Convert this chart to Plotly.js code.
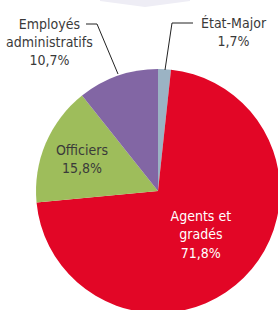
<!DOCTYPE html>
<html>
<head>
<meta charset="utf-8">
<script src="https://cdn.plot.ly/plotly-3.0.1.min.js"></script>
<style>
html, body { margin:0; padding:0; overflow:hidden; background:#fff; width:278px; height:310px; }
#chart { width:284px; height:316px; }
</style>
</head>
<body>
<div id="chart"></div>
<script>
const categories = ['État-Major', 'Agents et gradés', 'Officiers', 'Employés administratifs'];
const values = [1.7, 71.8, 15.8, 10.7];
const colors = ['#9bb3c4', '#e20626', '#9ebd5b', '#8266a4'];
const labelLines = ['État-Major', 'Agents et<br>gradés', 'Officiers', 'Employés<br>administratifs'];
const textColors = ['#3a3a3a', '#ffffff', '#3a3a3a', '#3a3a3a'];
const insideShown = [false, true, true, false];

const W = 284, H = 316;
const FONT = '"Liberation Sans Narrow", "DejaVu Sans Condensed", Roboto, sans-serif';
const FS = 14;
const fmt = v => v.toFixed(1).replace('.', ',') + '%';
const px = x => x / W;
const py = y => 1 - y / H;

const texts = categories.map((c, i) => insideShown[i] ? labelLines[i] + '<br>' + fmt(values[i]) : '');

const trace = {
  type: 'pie',
  labels: categories,
  values: values,
  text: texts,
  textinfo: 'text',
  hoverinfo: 'label+percent',
  sort: false,
  direction: 'clockwise',
  rotation: 0,
  marker: { colors: colors, line: { width: 0 } },
  textposition: insideShown.map(s => s ? 'inside' : 'none'),
  insidetextorientation: 'horizontal',
  insidetextfont: { family: FONT, size: FS, color: textColors },
  domain: { x: [px(36), px(280)], y: [py(313), py(69)] },
  showlegend: false
};

const annotations = [
  { x: px(49), y: py(42), text: labelLines[3] + '<br>' + fmt(values[3]) },
  { x: px(234), y: py(32), text: labelLines[0] + '<br>' + fmt(values[0]) }
].map(a => Object.assign({
  xref: 'paper', yref: 'paper', showarrow: false, xanchor: 'center', yanchor: 'middle',
  font: { family: FONT, size: FS, color: '#3a3a3a' }
}, a));

const path = pts => 'M ' + pts.map(p => px(p[0]) + ',' + py(p[1])).join(' L ');
const shapes = [
  { type: 'path', xref: 'paper', yref: 'paper', layer: 'below',
    path: path([[100, -2], [100, 1], [145, 7], [190, 1], [190, -2]]) + ' Z',
    fillcolor: '#eeedf5', line: { width: 0 } },
  { type: 'path', xref: 'paper', yref: 'paper',
    path: path([[86, 24], [97, 24], [118, 74]]), line: { color: '#222', width: 1 } },
  { type: 'path', xref: 'paper', yref: 'paper',
    path: path([[193, 23], [172, 23], [165, 70]]), line: { color: '#222', width: 1 } }
];

Plotly.newPlot('chart', [trace], {
  width: W, height: H,
  margin: { l: 0, r: 0, t: 0, b: 0 },
  paper_bgcolor: '#ffffff',
  annotations: annotations,
  shapes: shapes
}, { displayModeBar: false, staticPlot: true });
</script>
</body>
</html>
